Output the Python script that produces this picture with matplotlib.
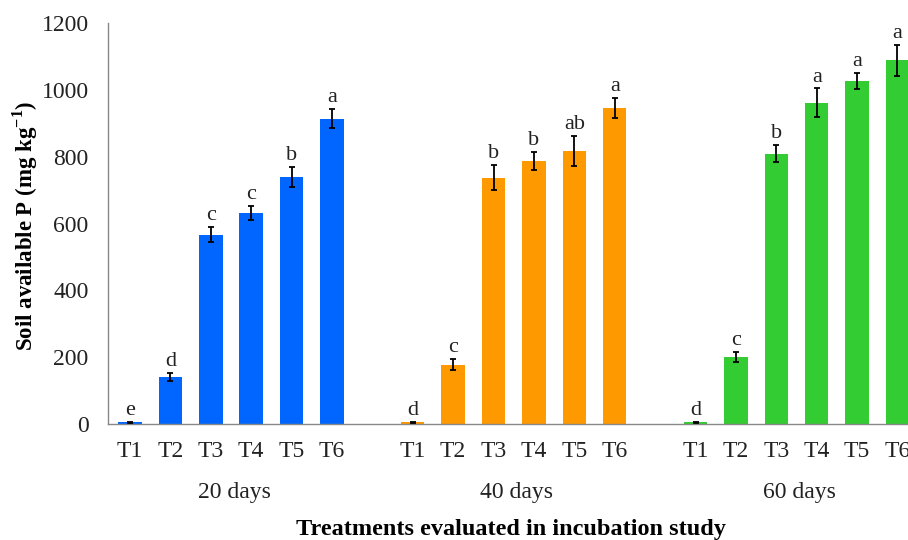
import matplotlib
matplotlib.use("Agg")
import matplotlib.pyplot as plt
import matplotlib.transforms as mtransforms
import numpy as np

plt.rcParams["font.family"] = ["Liberation Serif", "DejaVu Serif"]
plt.rcParams["mathtext.fontset"] = "custom"
plt.rcParams["mathtext.rm"] = "Liberation Serif"
plt.rcParams["mathtext.bf"] = "Liberation Serif:bold"

# ── data: soil available P (mg/kg) per treatment and incubation time ─────────
treatments = ["T1", "T2", "T3", "T4", "T5", "T6"]
periods = ["20 days", "40 days", "60 days"]

p_20d = [5, 141, 567, 631, 738, 914]
p_40d = [5, 178, 737, 786, 817, 946]
p_60d = [5, 201, 809, 962, 1026, 1088]

err_20d = [2, 12, 23, 22, 30, 28]
err_40d = [2, 16, 37, 27, 45, 31]
err_60d = [2, 14, 26, 42, 24, 46]

letters_20d = ["e", "d", "c", "c", "b", "a"]
letters_40d = ["d", "c", "b", "b", "ab", "a"]
letters_60d = ["d", "c", "b", "a", "a", "a"]

colors = ["#0066ff", "#ff9900", "#33cc33"]

groups = [
    (p_20d, err_20d, letters_20d),
    (p_40d, err_40d, letters_40d),
    (p_60d, err_60d, letters_60d),
]

fig = plt.figure(figsize=(9.08, 5.40), dpi=100)
ax = fig.add_axes([108 / 908, 1 - 424 / 540, 1 - 108 / 908, (424 - 23) / 540])

n = len(treatments)
xticks, xlabels = [], []
for g, (vals, errs, lets) in enumerate(groups):
    x = np.arange(n) + g * (n + 1)   # one empty slot between groups
    ax.bar(x, vals, width=0.58, color=colors[g], zorder=2)
    ax.errorbar(x, vals, yerr=errs, fmt="none", ecolor="black",
                elinewidth=1.3, capsize=2.5, capthick=1.3, zorder=3)
    for xi, v, e, lab in zip(x, vals, errs, lets):
        ax.annotate(lab, (xi, v + e), xytext=(0, 5), textcoords="offset points",
                    ha="center", va="baseline", fontsize=16, color="#222222")
    xticks.extend(x)
    xlabels.extend(treatments)

# period labels under each group of bars
trans = mtransforms.blended_transform_factory(ax.transData, ax.transAxes)
for g, name in enumerate(periods):
    ax.text(g * (n + 1) + (n - 1) / 2 + 0.08, -0.171, name, transform=trans,
            ha="center", va="center", fontsize=17, color="#222222")

ax.set_xlim(-0.545, 19.26)
ax.set_ylim(0, 1200)
ax.set_yticks(np.arange(0, 1201, 200))
ax.set_xticks(xticks)
ax.set_xticklabels(xlabels)
ax.tick_params(axis="both", length=0, labelsize=17, colors="#222222")
ax.tick_params(axis="y", pad=14)
ax.tick_params(axis="x", pad=12)

for side in ["top", "right"]:
    ax.spines[side].set_visible(False)
for side in ["left", "bottom"]:
    ax.spines[side].set_color("#888888")
    ax.spines[side].set_linewidth(1.0)

ax.set_ylabel(r"Soil available P (mg kg$^{\mathbf{-1}}$)", fontsize=16.5,
              fontweight="bold", labelpad=10)
ax.yaxis.set_label_coords(-0.085, 0.495)
ax.text(0.504, -0.264, "Treatments evaluated in incubation study",
        transform=ax.transAxes, ha="center", va="center",
        fontsize=17.5, fontweight="bold")

fig.savefig("out.png", dpi=100)
